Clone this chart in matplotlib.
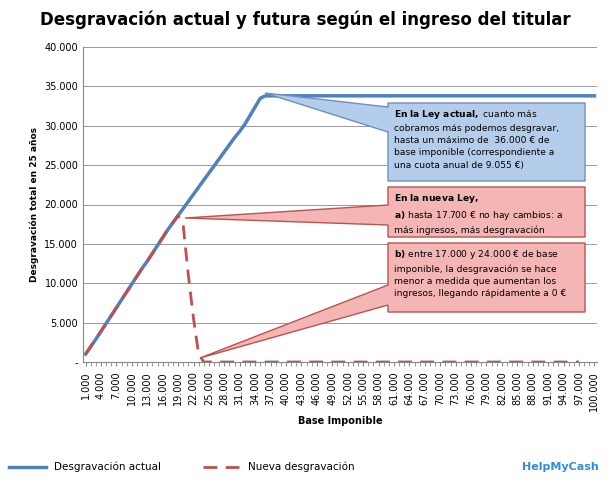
import matplotlib.pyplot as plt
import numpy as np
from matplotlib.patches import Polygon

# Base imponible 1.000 .. 100.000
base = list(range(1000, 100001, 1000))
actual = [1000, 1950, 2900, 3900, 4900, 5900, 6900, 7900, 8900, 9900,
          10900, 11900, 12800, 13800, 14800, 15800, 16800, 17700, 18600, 19500,
          20400, 21300, 22200, 23100, 24000, 24900, 25800, 26700, 27600, 28500,
          29300, 30200, 31300, 32400, 33500, 33800] + [33800] * 64
nueva = [1000, 1950, 2900, 3900, 4900, 5900, 6900, 7900, 8900, 9900,
         10900, 11900, 12800, 13800, 14800, 15800, 16800, 17700, 18600, 17300,
         11000, 5500, 1000, 0] + [0] * 73
yticks = [0, 5000, 10000, 15000, 20000, 25000, 30000, 35000, 40000]
ytick_labels = ['-', '5.000', '10.000', '15.000', '20.000', '25.000', '30.000', '35.000', '40.000']

W, H = 610, 491
fig = plt.figure(figsize=(W / 100, H / 100), dpi=100)
ax = fig.add_axes([83 / W, 1 - 362 / H, (597 - 83) / W, (362 - 47) / H])

x = np.arange(len(base))
ax.plot(x, actual, color='#4f81bd', lw=2.5, label='Desgravación actual')
ax.plot(np.arange(len(nueva)), nueva, color='#c0504d', lw=2, ls=(0, (5, 3)), label='Nueva desgravación')

ax.set_xlim(-0.5, len(base) - 0.5)
ax.set_ylim(0, 40000)
ax.set_yticks(yticks)
ax.set_yticklabels(ytick_labels, fontsize=7)
ax.set_xticks(x[::3])
ax.set_xticklabels([f'{b:,}'.replace(',', '.') for b in base[::3]], rotation=90, fontsize=7)
ax.set_xticks(x, minor=True)
ax.tick_params(axis='x', which='both', length=3, color='#888888')
ax.tick_params(axis='y', length=0)
ax.grid(axis='y', color='#999999', lw=0.7)
for s in ['top', 'right']:
    ax.spines[s].set_visible(False)
for s in ['left', 'bottom']:
    ax.spines[s].set_color('#888888')
ax.set_xlabel('Base Imponible', fontsize=7, fontweight='bold')
ax.set_ylabel('Desgravación total en 25 años', fontsize=6.5, fontweight='bold')

fig.text(0.5, 1 - 20 / H, 'Desgravación actual y futura según el ingreso del titular',
         ha='center', va='center', fontsize=12, fontweight='bold')


def px(p):
    return (p[0] / W, 1 - p[1] / H)


def callout(x0, y0, x1, y1, tip, b0, b1, fc, ec, text):
    pts = [(x0, y0), (x1, y0), (x1, y1), (x0, y1), (x0, b1), tip, (x0, b0)]
    fig.patches.append(Polygon([px(p) for p in pts], closed=True, transform=fig.transFigure,
                               fc=fc, ec=ec, lw=1, zorder=5))
    fig.text((x0 + 6) / W, 1 - (y0 + 5) / H, text, ha='left', va='top', fontsize=6.6,
             linespacing=1.45, zorder=6)


callout(388, 103, 585, 181, (265, 93), 107, 132, '#b4cdeb', '#6d8fbf',
        r'$\bf{En\ la\ Ley\ actual,}$ cuanto más' + '\ncobramos más podemos desgravar,\n'
        'hasta un máximo de  36.000 € de\nbase imponible (correspondiente a\nuna cuota anual de 9.055 €)')
callout(388, 187, 585, 237, (185, 218), 205, 225, '#f4b6b4', '#b85450',
        r'$\bf{En\ la\ nueva\ Ley,}$' + '\n' + r'$\bf{a)}$ hasta 17.700 € no hay cambios: a'
        '\nmás ingresos, más desgravación')
callout(388, 243, 585, 312, (200, 358), 285, 305, '#f4b6b4', '#b85450',
        r'$\bf{b)}$ entre 17.000 y 24.000 € de base' + '\nimponible, la desgravación se hace\n'
        'menor a medida que aumentan los\ningresos, llegando rápidamente a 0 €')

fig.legend(loc='center left', bbox_to_anchor=(0, 1 - 467 / H), ncol=2, frameon=False,
           fontsize=7.5, handlelength=3.5, columnspacing=4)
fig.text(560 / W, 1 - 467 / H, 'HelpMyCash', ha='center', va='center', fontsize=8,
         fontweight='bold', color='#2f8fd0')

fig.savefig('out.png', dpi=100)
